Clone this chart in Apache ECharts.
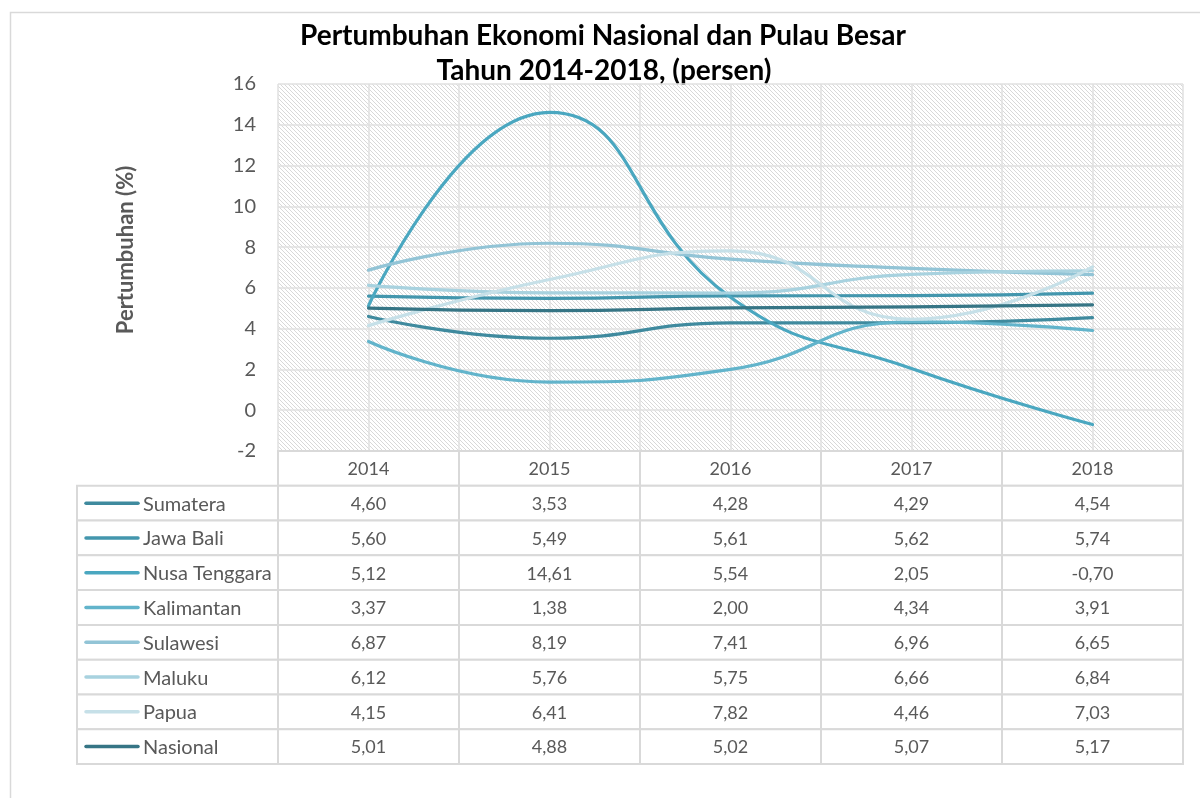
<!DOCTYPE html>
<html>
<head>
<meta charset="utf-8">
<script src="https://cdn.jsdelivr.net/npm/echarts@6/dist/echarts.min.js"></script>
<style>
html,body{margin:0;padding:0;background:#fff;}
#c{width:1200px;height:798px;}
</style>
</head>
<body>
<div id="c"></div>
<script>
// ---- data ----
const years = ['2014', '2015', '2016', '2017', '2018'];
const regions = ['Sumatera', 'Jawa Bali', 'Nusa Tenggara', 'Kalimantan', 'Sulawesi', 'Maluku', 'Papua', 'Nasional'];
const sumatera = [4.60, 3.53, 4.28, 4.29, 4.54];
const jawaBali = [5.60, 5.49, 5.61, 5.62, 5.74];
const nusaTenggara = [5.12, 14.61, 5.54, 2.05, -0.70];
const kalimantan = [3.37, 1.38, 2.00, 4.34, 3.91];
const sulawesi = [6.87, 8.19, 7.41, 6.96, 6.65];
const maluku = [6.12, 5.76, 5.75, 6.66, 6.84];
const papua = [4.15, 6.41, 7.82, 4.46, 7.03];
const nasional = [5.01, 4.88, 5.02, 5.07, 5.17];
const yTicks = [-2, 0, 2, 4, 6, 8, 10, 12, 14, 16];
const titleLines = ['Pertumbuhan Ekonomi Nasional dan Pulau Besar', 'Tahun 2014-2018, (persen)'];

const seriesValues = [sumatera, jawaBali, nusaTenggara, kalimantan, sulawesi, maluku, papua, nasional];
const colors = ['#3f8a9e', '#4396ad', '#4aa7c0', '#62b4cb', '#92c4d6', '#a8d2df', '#c6e0e8', '#367585'];

const FONT = 'Lato, "Open Sans", sans-serif';
const GRID_LINE = '#e0e0e0';
const TEXT = '#595959';

// hatch pattern
const pc = document.createElement('canvas');
pc.width = 4; pc.height = 4;
const px = pc.getContext('2d');
px.fillStyle = '#ffffff'; px.fillRect(0, 0, 4, 4);
px.fillStyle = '#d8d8d8';
for (let i = 0; i < 4; i++) px.fillRect(i, i, 1, 1);

function fmt(v) { return v.toFixed(2).replace('.', ','); }

const tableRows = [''].concat(regions);

// value cells
const cellData = [];
years.forEach((y, xi) => cellData.push([xi, 0, y]));
seriesValues.forEach((arr, r) => arr.forEach((v, xi) => cellData.push([xi, r + 1, fmt(v)])));
// label cells
const labelData = regions.map((n, r) => [0, r + 1, n, r]);

const chart = echarts.init(document.getElementById('c'));

const lineSeries = regions.map((name, i) => ({
  name: name,
  type: 'line',
  xAxisIndex: 0,
  yAxisIndex: 0,
  data: seriesValues[i],
  smooth: 0.5,
  showSymbol: false,
  symbol: 'none',
  lineStyle: { width: 3.2, color: colors[i], cap: 'round' },
  itemStyle: { color: colors[i] },
  z: 3
}));

const option = {
  animation: false,
  backgroundColor: '#ffffff',
  graphic: [
    { type: 'rect', shape: { x: 10.5, y: 12.5, width: 1200, height: 800 }, style: { fill: 'none', stroke: '#d9d9d9', lineWidth: 1.5 }, silent: true, z: -10 },
    { type: 'text', x: 603, y: 36,
      style: { text: titleLines[0], fill: '#000', font: 'bold 28px ' + FONT, align: 'center', verticalAlign: 'middle' } },
    { type: 'text', x: 604, y: 71,
      style: { text: titleLines[1], fill: '#000', font: 'bold 28px ' + FONT, align: 'center', verticalAlign: 'middle' } },
    { type: 'text', x: 126, y: 250, rotation: Math.PI / 2,
      style: { text: 'Pertumbuhan (%)', fill: TEXT, font: 'bold 22px ' + FONT, align: 'center', verticalAlign: 'middle' } }
  ],
  grid: [
    { left: 278, right: 17, top: 84, height: 367, show: true, backgroundColor: { image: pc, repeat: 'repeat' }, borderWidth: 0 },
    { left: 278, right: 17, top: 451, bottom: 34 },
    { left: 77, width: 201, top: 451, bottom: 34 }
  ],
  xAxis: [
    { type: 'category', gridIndex: 0, data: years, boundaryGap: true,
      axisLine: { show: false }, axisTick: { show: false }, axisLabel: { show: false }, splitLine: { show: false } },
    { type: 'value', gridIndex: 0, min: 0, max: 10, interval: 1,
      axisLine: { show: false }, axisTick: { show: false }, axisLabel: { show: false },
      splitLine: { show: true, lineStyle: { color: GRID_LINE, width: 1.5 } } },
    { type: 'category', gridIndex: 1, data: years, show: false },
    { type: 'category', gridIndex: 2, data: [''], show: false }
  ],
  yAxis: [
    { type: 'value', gridIndex: 0, min: -2, max: 16, interval: 2,
      axisLine: { show: false }, axisTick: { show: false },
      axisLabel: { fontFamily: FONT, fontSize: 20, color: TEXT, margin: 22,
        formatter: v => yTicks.indexOf(v) >= 0 ? String(v) : '' },
      splitLine: { show: true, lineStyle: { color: GRID_LINE, width: 1.5 } } },
    { type: 'category', gridIndex: 1, data: tableRows, inverse: true, show: false },
    { type: 'category', gridIndex: 2, data: tableRows, inverse: true, show: false }
  ],
  series: lineSeries.concat([
    {
      type: 'custom',
      xAxisIndex: 2, yAxisIndex: 1,
      data: cellData,
      silent: true,
      z: 2,
      renderItem: function (params, api) {
        const c = api.coord([api.value(0), api.value(1)]);
        const s = api.size([1, 1]);
        const txt = cellData[params.dataIndex][2];
        return {
          type: 'group',
          children: [
            { type: 'rect', shape: { x: c[0] - s[0] / 2, y: c[1] - s[1] / 2, width: s[0], height: s[1] },
              style: { fill: '#fff', stroke: '#d9d9d9', lineWidth: 2 } },
            { type: 'text', x: c[0], y: c[1] + 1,
              style: { text: txt, fill: TEXT, font: '18px ' + FONT, align: 'center', verticalAlign: 'middle' } }
          ]
        };
      }
    },
    {
      type: 'custom',
      xAxisIndex: 3, yAxisIndex: 2,
      data: labelData,
      silent: true,
      z: 2,
      renderItem: function (params, api) {
        const c = api.coord([api.value(0), api.value(1)]);
        const s = api.size([1, 1]);
        const d = labelData[params.dataIndex];
        const x0 = c[0] - s[0] / 2;
        return {
          type: 'group',
          children: [
            { type: 'rect', shape: { x: x0, y: c[1] - s[1] / 2, width: s[0], height: s[1] },
              style: { fill: '#fff', stroke: '#d9d9d9', lineWidth: 2 } },
            { type: 'line', shape: { x1: x0 + 9, y1: c[1], x2: x0 + 61, y2: c[1] },
              style: { stroke: colors[d[3]], lineWidth: 3.5, lineCap: 'round' } },
            { type: 'text', x: x0 + 66, y: c[1] + 1,
              style: { text: d[2], fill: TEXT, font: '20px ' + FONT, align: 'left', verticalAlign: 'middle' } }
          ]
        };
      }
    }
  ])
};

chart.setOption(option);
</script>
</body>
</html>
